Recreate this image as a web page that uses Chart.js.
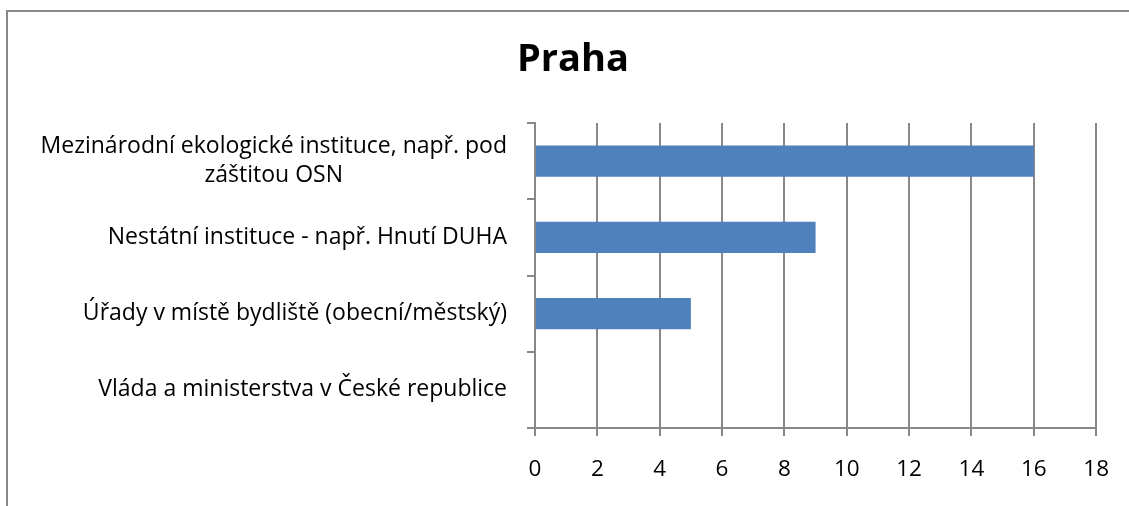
<!DOCTYPE html>
<html><head><meta charset="utf-8">
<script src="https://cdn.jsdelivr.net/npm/chart.js@4"></script>
<style>
html,body{margin:0;padding:0;background:#fff;}
#frame{position:absolute;left:6px;top:10px;width:1123px;height:496px;border-top:2px solid #888;border-left:2px solid #888;box-sizing:border-box;}
#c{position:absolute;left:0;top:0;}
</style></head><body>
<div id="frame"></div>
<canvas id="c" width="1129" height="506"></canvas>
<script>
const titleText = "Praha";
const categories = [
  ["Mezinárodní ekologické instituce, např. pod", "záštitou OSN"],
  "Nestátní instituce - např. Hnutí DUHA",
  "Úřady v místě bydliště (obecní/městský)",
  "Vláda a ministerstva v České republice"
];
const values = [16, 9, 5, 0];
const xMin = 0, xMax = 18, xStep = 2;

const LABEL_FONT = '23px "Open Sans"';
const LABEL_LINE_H = 29;

const yLabelPlugin = {
  id: 'yLabels',
  afterDraw(chart) {
    const s = chart.scales.y;
    const ctx = chart.ctx;
    ctx.save();
    ctx.font = LABEL_FONT;
    ctx.fillStyle = '#000';
    ctx.textAlign = 'center';
    ctx.textBaseline = 'middle';
    const right = s.right - 8 - 20;
    s.ticks.forEach((t, i) => {
      const lbl = categories[i];
      const lines = Array.isArray(lbl) ? lbl : [lbl];
      const w = Math.max(...lines.map(l => ctx.measureText(l).width));
      const cx = right - w / 2;
      const y0 = s.getPixelForTick(i) - (lines.length - 1) * LABEL_LINE_H / 2;
      lines.forEach((l, j) => ctx.fillText(l, cx, y0 + j * LABEL_LINE_H));
    });
    ctx.restore();
  }
};

new Chart(document.getElementById('c'), {
  type: 'bar',
  data: {
    labels: categories,
    datasets: [{
      data: values,
      backgroundColor: '#4F81BD',
      borderWidth: 0,
      categoryPercentage: 1,
      barPercentage: 0.41
    }]
  },
  options: {
    indexAxis: 'y',
    responsive: false,
    animation: false,
    layout: { padding: { left: 48, right: 31, top: 0, bottom: 0 } },
    plugins: {
      legend: { display: false },
      tooltip: { enabled: false },
      title: {
        display: true,
        text: titleText,
        color: '#000',
        font: { family: '"Open Sans"', size: 38, weight: 'bold', lineHeight: 1.2 },
        padding: { top: 37.2, bottom: 40.2 }
      }
    },
    scales: {
      x: {
        type: 'linear',
        min: xMin, max: xMax,
        ticks: { stepSize: xStep, color: '#000', font: { family: '"Open Sans"', size: 22.5 }, padding: 20 },
        grid: { color: '#888', lineWidth: 2, tickLength: 8, drawTicks: true },
        border: { display: true, color: '#888', width: 2 },
        afterFit(scale) { scale.height = 78; }
      },
      y: {
        type: 'category',
        offset: true,
        ticks: { display: false },
        grid: { offset: true, drawOnChartArea: false, drawTicks: true, tickLength: 8, color: '#888', lineWidth: 2 },
        border: { display: true, color: '#888', width: 2 },
        afterFit(scale) { scale.width = 487; }
      }
    }
  },
  plugins: [yLabelPlugin]
});
</script>
</body></html>
